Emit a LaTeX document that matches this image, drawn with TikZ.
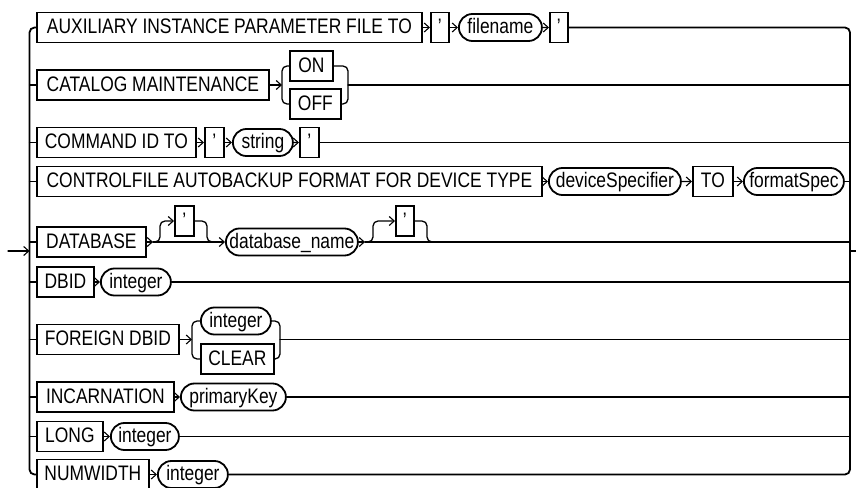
\documentclass[tikz,border=0pt]{standalone}
\usepackage{fontspec}
\setmainfont{Liberation Sans}[FakeStretch=0.83]
\usetikzlibrary{arrows.meta,shapes.misc}
\newcommand\rrfont{\fontsize{21}{24}\selectfont}
\tikzset{
  conn/.style={line width=1.3pt, line cap=round},
  arr/.style={conn, -{Straight Barb[length=5pt,width=9pt,line width=1.1pt]}},
  kbox/.style={draw, line width=1.8pt, rectangle, minimum height=30pt, inner sep=0pt,
    anchor=west, text height=15pt, text depth=3pt, font=\rrfont},
  kov/.style={draw, line width=1.8pt, rounded rectangle, minimum height=27pt, inner sep=0pt,
    anchor=west, text height=15pt, text depth=3pt, font=\rrfont},
  rail/.style={line width=1.8pt, rounded corners=5pt},
  brk/.style={conn, rounded corners=5pt},
}
\begin{document}
\begin{tikzpicture}[x=1pt,y=-1pt]
\useasboundingbox (0,0) rectangle (856,487);
\coordinate (L) at (29.5,0);
\coordinate (R) at (850,0);

% row 1
\node[kbox, minimum width=385pt] (aux) at (36,27.5) {AUXILIARY INSTANCE PARAMETER FILE TO};
\node[kbox, minimum width=18pt] (q1a) at (430,27.5) {'};
\node[kov, minimum width=83pt] (fn) at (458,27.5) {filename};
\node[kbox, minimum width=18pt] (q1b) at (549,27.5) {'};
\draw[arr] (aux) -- (q1a);
\draw[arr] (q1a) -- (fn);
\draw[arr] (fn) -- (q1b);

% row 2
\node[kbox, minimum width=232pt] (cat) at (36,85) {CATALOG MAINTENANCE};
\node[kbox, minimum width=43pt] (on) at (289,66) {ON};
\node[kbox, minimum width=51pt] (off) at (289,104) {OFF};
\coordinate (c2l) at (282,85);
\coordinate (c2r) at (348,85);
\draw[arr] (cat.east) -- (c2l);
\draw[brk] (on.west) -| (c2l) |- (off.west);
\draw[brk] (on.east) -| (c2r) |- (off.east);
\draw[conn] (c2r) -- (c2r -| R);

% row 3
\node[kbox, minimum width=159pt] (cmd) at (36,142.5) {COMMAND ID TO};
\node[kbox, minimum width=19pt] (q3a) at (204,142.5) {'};
\node[kov, minimum width=60pt] (str) at (232,142.5) {string};
\node[kbox, minimum width=19pt] (q3b) at (299,142.5) {'};
\draw[arr] (cmd) -- (q3a);
\draw[arr] (q3a) -- (str);
\draw[arr] (str) -- (q3b);
\draw[conn] (q3b.east) -- (q3b.east -| R);

% row 4
\node[kbox, minimum width=505pt] (ctl) at (36,181.5) {CONTROLFILE AUTOBACKUP FORMAT FOR DEVICE TYPE};
\node[kov, minimum width=132pt] (dev) at (548,181.5) {deviceSpecifier};
\node[kbox, minimum width=40pt] (to) at (692,181.5) {TO};
\node[kov, minimum width=100pt] (fmt) at (743,181.5) {formatSpec};
\draw[arr] (ctl) -- (dev);
\draw[arr] (dev) -- (to);
\draw[arr] (to) -- (fmt);
\draw[conn] (fmt.east) -- (fmt.east -| R);

% row 5
\node[kbox, minimum width=109pt] (db) at (36,242) {DATABASE};
\node[kbox, minimum width=19pt] (q5a) at (174,221) {'};
\node[kov, minimum width=132pt] (dbn) at (225,242) {database\_name};
\node[kbox, minimum width=18pt] (q5b) at (395,221) {'};
\coordinate (a5) at (153,242);
\coordinate (a5m) at (160,232);
\coordinate (a5r) at (207,232);
\coordinate (a5e) at (215,242);
\coordinate (b5) at (365,242);
\coordinate (b5m) at (373,232);
\coordinate (b5r) at (427,232);
\coordinate (b5e) at (436,242);
\draw[arr] (db.east) -- (a5);
\draw[arr] (a5) -- (dbn.west);
\draw[arr, rounded corners=5pt] (a5) -| (a5m) |- (q5a.west);
\draw[brk] (q5a.east) -| (a5r) |- (a5e);
\draw[arr] (dbn.east) -- (b5);
\draw[arr, rounded corners=5pt] (b5) -| (b5m) |- (q5b.west);
\draw[brk] (q5b.east) -| (b5r) |- (b5e);
\draw[conn] (b5) -- (b5 -| R);

% row 6
\node[kbox, minimum width=57pt] (dbid) at (36,282) {DBID};
\node[kov, minimum width=70pt] (int6) at (100,282) {integer};
\draw[arr] (dbid) -- (int6);
\draw[conn] (int6.east) -- (int6.east -| R);

% row 7
\node[kbox, minimum width=142pt] (fdb) at (36,339.5) {FOREIGN DBID};
\node[kov, minimum width=70pt] (int7) at (200,321) {integer};
\node[kbox, minimum width=73pt] (clr) at (200,359) {CLEAR};
\coordinate (c7l) at (192,339.5);
\coordinate (c7r) at (280,339.5);
\draw[arr] (fdb.east) -- (c7l);
\draw[brk] (int7.west) -| (c7l) |- (clr.west);
\draw[brk] (int7.east) -| (c7r) |- (clr.east);
\draw[conn] (c7r) -- (c7r -| R);

% row 8
\node[kbox, minimum width=137pt] (inc) at (36,397) {INCARNATION};
\node[kov, minimum width=105pt] (pk) at (180,397) {primaryKey};
\draw[arr] (inc) -- (pk);
\draw[conn] (pk.east) -- (pk.east -| R);

% row 9
\node[kbox, minimum width=66pt] (lng) at (36,436.5) {LONG};
\node[kov, minimum width=68pt] (int9) at (110,436.5) {integer};
\draw[arr] (lng) -- (int9);
\draw[conn] (int9.east) -- (int9.east -| R);

% row 10
\node[kbox, minimum width=112pt] (nw) at (36,474.5) {NUMWIDTH};
\node[kov, minimum width=70pt] (int10) at (157,474.5) {integer};
\draw[arr] (nw) -- (int10);

% left stubs
\foreach \n in {cat,cmd,ctl,db,dbid,fdb,inc,lng}
  \draw[conn] (\n.west -| L) -- (\n.west);
% rails
\draw[rail] (aux.west) -| (29.5,250) |- (nw.west);
\draw[rail] (q1b.east) -| (850,250) |- (int10.east);

% entry and exit
\coordinate (in) at (8,251);
\coordinate (out) at (856,251);
\draw[arr] (in) -- (in -| L);
\draw[conn] (out -| R) -- (out);
\end{tikzpicture}
\end{document}
